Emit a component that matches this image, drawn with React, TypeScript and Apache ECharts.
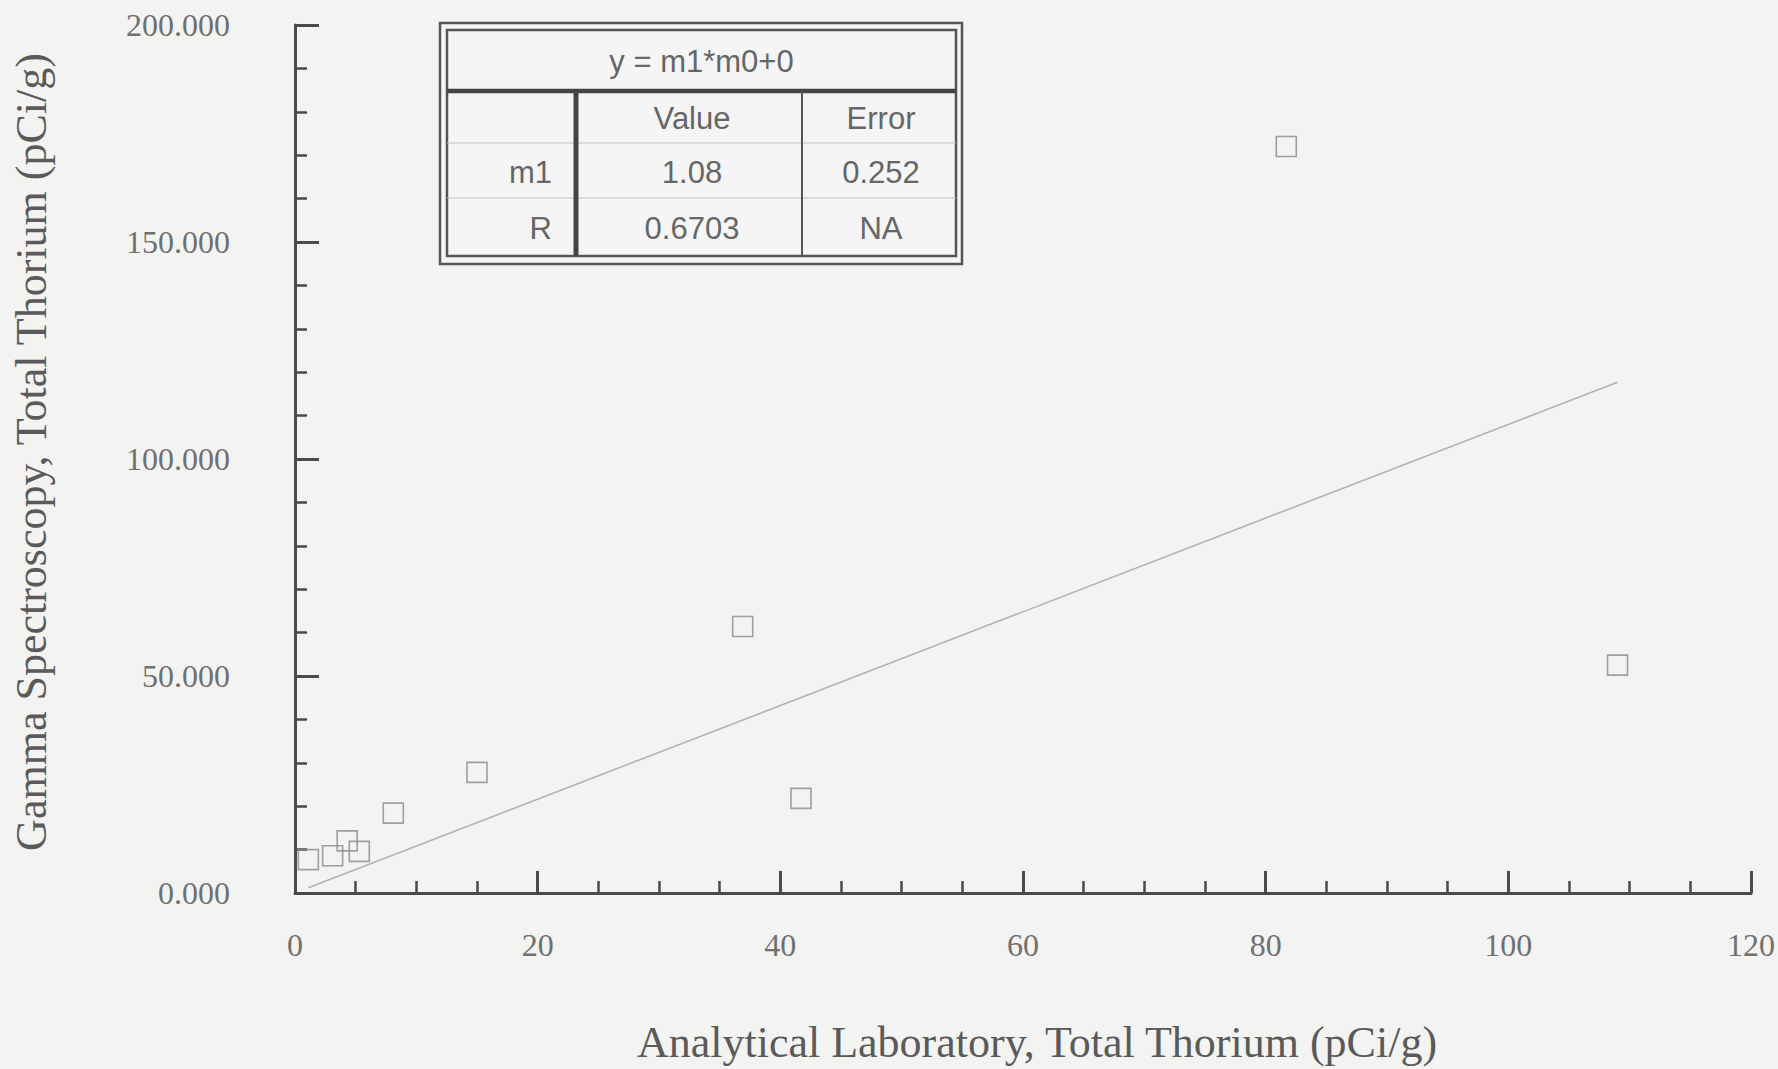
import React, { useEffect, useRef } from "react";
import * as echarts from "echarts";

// Scatter data: Analytical Laboratory (x) vs Gamma Spectroscopy (y), Total Thorium (pCi/g)
const labThorium = [81.7, 109.0, 36.9, 41.7, 15.0, 8.1, 1.1, 3.1, 4.3, 5.3];
const gammaThorium = [172.0, 52.5, 61.4, 21.8, 27.8, 18.4, 7.7, 8.6, 12.0, 9.6];

// Fitted line endpoints
const fitLineX = [1.1, 109.0];
const fitLineY = [1.2, 117.7];

// Axis ticks
const xTickValues = [0, 20, 40, 60, 80, 100, 120];
const yTickValues = [0, 50, 100, 150, 200];
const yTickLabels = ["0.000", "50.000", "100.000", "150.000", "200.000"];

// Fit table
const fitEquation = "y = m1*m0+0";
const tableHeaders = ["Value", "Error"];
const tableRowNames = ["m1", "R"];
const tableValues = ["1.08", "0.6703"];
const tableErrors = ["0.252", "NA"];

const xAxisTitle = "Analytical Laboratory, Total Thorium (pCi/g)";
const yAxisTitle = "Gamma Spectroscopy, Total Thorium (pCi/g)";

export default function App() {
  const ref = useRef<HTMLDivElement>(null);

  useEffect(() => {
    if (!ref.current) return;
    const chart = echarts.init(ref.current, undefined, { renderer: "svg" });

    const serif = "'Liberation Serif', 'DejaVu Serif', serif";
    const sans = "'Liberation Sans', Arial, sans-serif";
    const axisColor = "#4a4a4a";
    const labelColor = "#707070";
    const tableText = "#666666";
    const tableLine = "#555555";

    // table geometry
    const tL = 440, tR = 962, tT = 23, tB = 264;
    const iL = 447, iR = 956, iT = 30, iB = 256;
    const titleLineY = 91;
    const vThick = 576, vThin = 802;
    const rowLines = [143, 198];
    const headerY = 118;
    const rowY = [172, 228];
    const colValueX = 692;
    const colErrorX = 881;
    const rowNameRight = 552;

    const txt = (text: string, x: number, y: number, align: string) => ({
      type: "text",
      x,
      y,
      z: 20,
      style: {
        text,
        font: `31px ${sans}`,
        fill: tableText,
        align,
        verticalAlign: "middle",
        textAlign: align,
        textVerticalAlign: "middle",
      },
    });

    const elements: any[] = [
      {
        type: "rect",
        z: 10,
        shape: { x: tL, y: tT, width: tR - tL, height: tB - tT },
        style: { fill: "#f5f5f5", stroke: tableLine, lineWidth: 2.5 },
      },
      {
        type: "rect",
        z: 11,
        shape: { x: iL, y: iT, width: iR - iL, height: iB - iT },
        style: { fill: "none", stroke: tableLine, lineWidth: 2.5 },
      },
      {
        type: "line",
        z: 11,
        shape: { x1: iL, y1: titleLineY, x2: iR, y2: titleLineY },
        style: { stroke: "#444", lineWidth: 4.5 },
      },
      ...rowLines.map((y) => ({
        type: "line",
        z: 11,
        shape: { x1: iL, y1: y, x2: iR, y2: y },
        style: { stroke: "#c2c2c2", lineWidth: 1.2 },
      })),
      {
        type: "line",
        z: 12,
        shape: { x1: vThick, y1: titleLineY, x2: vThick, y2: iB },
        style: { stroke: "#444", lineWidth: 5 },
      },
      {
        type: "line",
        z: 12,
        shape: { x1: vThin, y1: titleLineY, x2: vThin, y2: iB },
        style: { stroke: tableLine, lineWidth: 2 },
      },
      txt(fitEquation, (iL + iR) / 2, 61, "center"),
      txt(tableHeaders[0], colValueX, headerY, "center"),
      txt(tableHeaders[1], colErrorX, headerY, "center"),
      ...tableRowNames.map((n, i) => txt(n, rowNameRight, rowY[i], "right")),
      ...tableValues.map((v, i) => txt(v, colValueX, rowY[i], "center")),
      ...tableErrors.map((v, i) => txt(v, colErrorX, rowY[i], "center")),
    ];

    chart.setOption({
      animation: false,
      backgroundColor: "#f3f3f2",
      grid: { left: 295, top: 25, width: 1458, height: 868, containLabel: false },
      xAxis: {
        type: "value",
        min: xTickValues[0],
        max: xTickValues[xTickValues.length - 1],
        interval: 20,
        name: xAxisTitle,
        nameLocation: "middle",
        nameGap: 127,
        nameTextStyle: { fontFamily: serif, fontSize: 44, color: "#5a5a5a", padding: [0, 0, 0, 28] },
        axisLine: { show: true, lineStyle: { color: axisColor, width: 3 } },
        axisTick: { show: true, inside: true, length: 22, lineStyle: { color: axisColor, width: 3 } },
        minorTick: { show: true, splitNumber: 4, length: 12, lineStyle: { color: axisColor, width: 2.5 } },
        axisLabel: { fontFamily: serif, fontSize: 32, color: labelColor, margin: 36 },
        splitLine: { show: false },
      },
      yAxis: {
        type: "value",
        min: yTickValues[0],
        max: yTickValues[yTickValues.length - 1],
        interval: 50,
        name: yAxisTitle,
        nameLocation: "middle",
        nameGap: 242,
        nameRotate: 90,
        nameTextStyle: { fontFamily: serif, fontSize: 44, color: "#5a5a5a", padding: [0, 0, 0, 14] },
        axisLine: { show: true, lineStyle: { color: axisColor, width: 3 } },
        axisTick: { show: true, inside: true, length: 24, lineStyle: { color: axisColor, width: 3 } },
        minorTick: { show: true, splitNumber: 5, length: 12, lineStyle: { color: axisColor, width: 2.5 } },
        axisLabel: {
          fontFamily: serif,
          fontSize: 32,
          color: labelColor,
          margin: 65,
          formatter: (v: number) => {
            const i = yTickValues.indexOf(v);
            return i >= 0 ? yTickLabels[i] : String(v);
          },
        },
        splitLine: { show: false },
      },
      series: [
        {
          type: "line",
          data: fitLineX.map((x, i) => [x, fitLineY[i]]),
          showSymbol: false,
          symbol: "none",
          lineStyle: { color: "#b3b3b3", width: 1.6 },
          z: 2,
        },
        {
          type: "scatter",
          data: labThorium.map((x, i) => [x, gammaThorium[i]]),
          symbol: "rect",
          symbolSize: 20,
          itemStyle: { color: "rgba(0,0,0,0)", borderColor: "#8a8a8a", borderWidth: 1.6 },
          z: 3,
        },
      ],
      graphic: { elements },
    });

    return () => chart.dispose();
  }, []);

  return (
    <div
      ref={ref}
      style={{ position: "absolute", left: 0, top: 0, width: 1778, height: 1069 }}
    />
  );
}
